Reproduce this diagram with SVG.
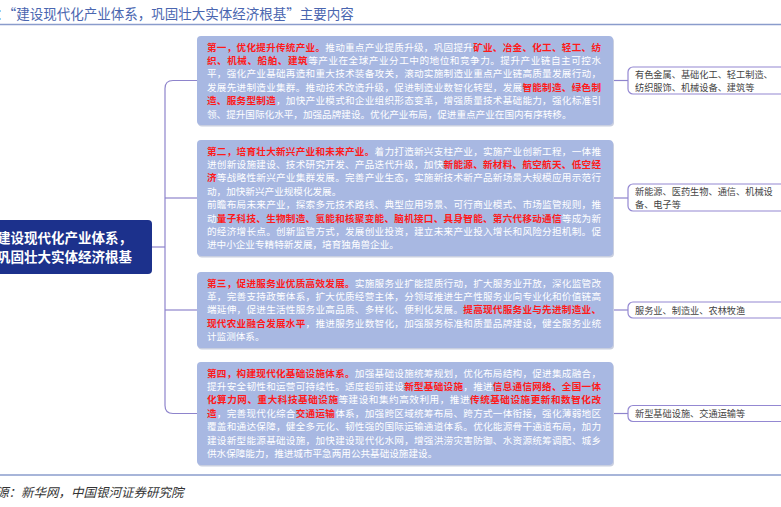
<svg xmlns="http://www.w3.org/2000/svg" width="781" height="507" viewBox="0 0 781 507">
<style>
text{font-family:"Noto Sans CJK SC","Noto Sans",sans-serif}
.bx{fill:#a8b8e2}
.sh{fill:#c9cfe0}
.t{font-size:9.6px;fill:#ffffff}
.r{fill:#ff1a1a;font-weight:700}
.rb{fill:#ffffff;stroke:#9488d2;stroke-width:1.2}
.rt{font-size:9.2px;fill:#444444}
.c{fill:none;stroke:#8e84cc;stroke-width:1.2}
.hl{stroke:#8a9ccc;stroke-width:1.5}
</style>
<rect width="781" height="507" fill="#ffffff"/>
<g id="title">
<text x="-4" y="18.5" font-size="13.5" fill="#4a66b0">：“建设现代化产业体系，巩固壮大实体经济根基”主要内容</text>
<line class="hl" x1="0" y1="24.5" x2="781" y2="24.5"/>
</g>
<g id="connectors">
<path class="c" d="M152,247 H165"/>
<path class="c" d="M197,80.5 H173 Q165,80.5 165,88.5 V405.5 Q165,413.5 173,413.5 H197"/>
<path class="c" d="M165,198 H197"/>
<path class="c" d="M165,310 H197"/>
<path class="c" d="M613,80.5 H628"/>
<path class="c" d="M613,198 H628"/>
<path class="c" d="M613,310 H628"/>
<path class="c" d="M613,413.5 H628"/>
</g>
<g id="root">
<rect x="-20" y="220" width="172" height="54" rx="4" fill="#1c318c"/>
<text x="-3" y="242.5" font-size="13.5" font-weight="700" fill="#ffffff">建设现代化产业体系，</text>
<text x="-3" y="261.5" font-size="13.5" font-weight="700" fill="#ffffff">巩固壮大实体经济根基</text>
</g>
<g id="box1">
<rect class="sh" x="198" y="37.5" width="416" height="89" rx="4"/>
<rect class="bx" x="197" y="36" width="416" height="89" rx="4"/>
<text class="t" x="207" y="50.5" textLength="394" lengthAdjust="spacing"><tspan class="r">第一，优化提升传统产业。</tspan>推动重点产业提质升级，巩固提升<tspan class="r">矿业、冶金、化工、轻工、纺</tspan></text>
<text class="t" x="207" y="63.9" textLength="394" lengthAdjust="spacing"><tspan class="r">织、机械、船舶、建筑</tspan>等产业在全球产业分工中的地位和竞争力。提升产业链自主可控水</text>
<text class="t" x="207" y="77.3" textLength="394" lengthAdjust="spacing">平，强化产业基础再造和重大技术装备攻关，滚动实施制造业重点产业链高质量发展行动，</text>
<text class="t" x="207" y="90.7" textLength="394" lengthAdjust="spacing">发展先进制造业集群。推动技术改造升级，促进制造业数智化转型，发展<tspan class="r">智能制造、绿色制</tspan></text>
<text class="t" x="207" y="104.1" textLength="394" lengthAdjust="spacing"><tspan class="r">造、服务型制造</tspan>，加快产业模式和企业组织形态变革，增强质量技术基础能力，强化标准引</text>
<text class="t" x="207" y="117.5">领、提升国际化水平，加强品牌建设。优化产业布局，促进重点产业在国内有序转移。</text>
</g>
<g id="box2">
<rect class="sh" x="198" y="141.5" width="416" height="116" rx="4"/>
<rect class="bx" x="197" y="140" width="416" height="116" rx="4"/>
<text class="t" x="207" y="154.5" textLength="394" lengthAdjust="spacing"><tspan class="r">第二，培育壮大新兴产业和未来产业。</tspan>着力打造新兴支柱产业，实施产业创新工程，一体推</text>
<text class="t" x="207" y="167.9" textLength="394" lengthAdjust="spacing">进创新设施建设、技术研究开发、产品迭代升级，加快<tspan class="r">新能源、新材料、航空航天、低空经</tspan></text>
<text class="t" x="207" y="181.3" textLength="394" lengthAdjust="spacing"><tspan class="r">济</tspan>等战略性新兴产业集群发展。完善产业生态，实施新技术新产品新场景大规模应用示范行</text>
<text class="t" x="207" y="194.7">动，加快新兴产业规模化发展。</text>
<text class="t" x="207" y="208.1" textLength="394" lengthAdjust="spacing">前瞻布局未来产业，探索多元技术路线、典型应用场景、可行商业模式、市场监管规则，推</text>
<text class="t" x="207" y="221.5" textLength="394" lengthAdjust="spacing">动<tspan class="r">量子科技、生物制造、氢能和核聚变能、脑机接口、具身智能、第六代移动通信</tspan>等成为新</text>
<text class="t" x="207" y="234.9" textLength="394" lengthAdjust="spacing">的经济增长点。创新监管方式，发展创业投资，建立未来产业投入增长和风险分担机制。促</text>
<text class="t" x="207" y="248.3">进中小企业专精特新发展，培育独角兽企业。</text>
</g>
<g id="box3">
<rect class="sh" x="198" y="273.5" width="416" height="76" rx="4"/>
<rect class="bx" x="197" y="272" width="416" height="76" rx="4"/>
<text class="t" x="207" y="286.5" textLength="394" lengthAdjust="spacing"><tspan class="r">第三，促进服务业优质高效发展。</tspan>实施服务业扩能提质行动，扩大服务业开放，深化监管改</text>
<text class="t" x="207" y="299.9" textLength="394" lengthAdjust="spacing">革，完善支持政策体系，扩大优质经营主体，分领域推进生产性服务业向专业化和价值链高</text>
<text class="t" x="207" y="313.3" textLength="394" lengthAdjust="spacing">端延伸，促进生活性服务业高品质、多样化、便利化发展。<tspan class="r">提高现代服务业与先进制造业、</tspan></text>
<text class="t" x="207" y="326.7" textLength="394" lengthAdjust="spacing"><tspan class="r">现代农业融合发展水平</tspan>，推进服务业数智化，加强服务标准和质量品牌建设，健全服务业统</text>
<text class="t" x="207" y="340.1">计监测体系。</text>
</g>
<g id="box4">
<rect class="sh" x="198" y="363.5" width="416" height="103" rx="4"/>
<rect class="bx" x="197" y="362" width="416" height="103" rx="4"/>
<text class="t" x="207" y="376.5" textLength="394" lengthAdjust="spacing"><tspan class="r">第四，构建现代化基础设施体系。</tspan>加强基础设施统筹规划，优化布局结构，促进集成融合，</text>
<text class="t" x="207" y="389.9" textLength="394" lengthAdjust="spacing">提升安全韧性和运营可持续性。适度超前建设<tspan class="r">新型基础设施</tspan>，推进<tspan class="r">信息通信网络、全国一体</tspan></text>
<text class="t" x="207" y="403.3" textLength="394" lengthAdjust="spacing"><tspan class="r">化算力网、重大科技基础设施</tspan>等建设和集约高效利用，推进<tspan class="r">传统基础设施更新和数智化改</tspan></text>
<text class="t" x="207" y="416.7" textLength="394" lengthAdjust="spacing"><tspan class="r">造</tspan>，完善现代化综合<tspan class="r">交通运输</tspan>体系，加强跨区域统筹布局、跨方式一体衔接，强化薄弱地区</text>
<text class="t" x="207" y="430.1" textLength="394" lengthAdjust="spacing">覆盖和通达保障，健全多元化、韧性强的国际运输通道体系。优化能源骨干通道布局，加力</text>
<text class="t" x="207" y="443.5" textLength="394" lengthAdjust="spacing">建设新型能源基础设施，加快建设现代化水网，增强洪涝灾害防御、水资源统筹调配、城乡</text>
<text class="t" x="207" y="456.9">供水保障能力，推进城市平急两用公共基础设施建设。</text>
</g>
<g id="right1">
<rect class="rb" x="628" y="67" width="170" height="27" rx="5"/>
<text class="rt" x="635" y="77.5">有色金属、基础化工、轻工制造、</text>
<text class="rt" x="635" y="90.5">纺织服饰、机械设备、建筑等</text>
</g>
<g id="right2">
<rect class="rb" x="628" y="184" width="170" height="27" rx="5"/>
<text class="rt" x="635" y="194.5">新能源、医药生物、通信、机械设</text>
<text class="rt" x="635" y="207.5">备、电子等</text>
</g>
<g id="right3">
<rect class="rb" x="628" y="302" width="170" height="16" rx="5"/>
<text class="rt" x="635" y="313.5">服务业、制造业、农林牧渔</text>
</g>
<g id="right4">
<rect class="rb" x="628" y="405.5" width="170" height="16" rx="5"/>
<text class="rt" x="635" y="417">新型基础设施、交通运输等</text>
</g>
<g id="source">
<line class="hl" x1="0" y1="475" x2="781" y2="475" stroke-width="1.2"/>
<text x="-4" y="497" font-size="12.5" font-style="italic" fill="#333333">源：新华网，中国银河证券研究院</text>
</g>
</svg>
